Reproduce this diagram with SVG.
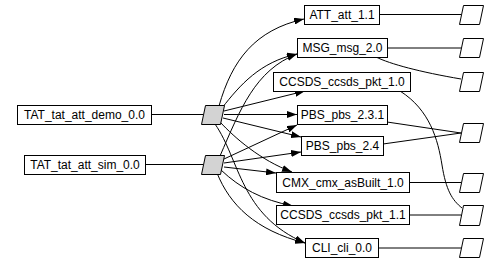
<svg xmlns="http://www.w3.org/2000/svg" width="500" height="264" viewBox="0 0 500 264">
<defs>
<style>
.box{fill:#fff;stroke:#000;stroke-width:1}
.src{fill:#d3d3d3;stroke:#000;stroke-width:1}
.sink{fill:#fff;stroke:#000;stroke-width:1}
.lbl{font-family:"Liberation Sans",Arial,sans-serif;font-size:12px;fill:#000;text-anchor:middle;dominant-baseline:central}
.e{fill:none;stroke:#000;stroke-width:1}
.a{marker-end:url(#arr)}
</style>
<marker id="arr" markerUnits="userSpaceOnUse" markerWidth="10" markerHeight="7" refX="10" refY="3.5" orient="auto">
<path d="M0,0 L10,3.5 L0,7 z" fill="#000"/>
</marker>
</defs>
<rect width="500" height="264" fill="#fff"/>
<g id="connectors">
<path class="e" d="M151,114.5 L203,114.5"/>
<path class="e" d="M145,164.5 L203,164.5"/>
<path class="e a" d="M219,106 C232,60 255,30 304,19"/>
<path class="e a" d="M222,108 C240,85 260,62 297,54"/>
<path class="e a" d="M220,156 C240,110 255,70 297,54"/>
<path class="e a" d="M224,111 L305,91"/>
<path class="e a" d="M224,114.5 L297,114.5"/>
<path class="e a" d="M224,159 L297,125"/>
<path class="e a" d="M223,118 L301,137"/>
<path class="e a" d="M224,163 L301,152"/>
<path class="e a" d="M220,122 C235,138 260,160 292,172"/>
<path class="e a" d="M224,167 L276,173"/>
<path class="e a" d="M221,170 C240,188 262,200 293,206"/>
<path class="e a" d="M217,173 C230,205 255,230 305,243"/>
<path class="e a" d="M215,124 C240,160 240,215 305,243"/>
<path class="e" d="M379,14.5 L461,14.5"/>
<path class="e" d="M387,48 L461,48"/>
<path class="e" d="M376,57 C390,64 420,72 461,79"/>
<path class="e" d="M400,91 C430,110 438,140 442,165 C446,190 452,200 462,208"/>
<path class="e" d="M387,122 L461,133"/>
<path class="e" d="M383,144 L461,133"/>
<path class="e" d="M409,182.5 L461,182.5"/>
<path class="e" d="M409,215 L461,215"/>
<path class="e" d="M378,248 L461,248"/>
</g>
<g id="TAT_tat_att_demo_0.0"><rect class="box" x="17.5" y="105.5" width="134" height="19"/><text class="lbl" x="84.5" y="115">TAT_tat_att_demo_0.0</text></g>
<g id="TAT_tat_att_sim_0.0"><rect class="box" x="24.5" y="155.5" width="121" height="19"/><text class="lbl" x="85" y="165">TAT_tat_att_sim_0.0</text></g>
<g id="src_demo"><polygon class="src" points="205.5,105.5 224.5,105.5 220.5,124.5 201.5,124.5"/></g>
<g id="src_sim"><polygon class="src" points="205.5,155.5 224.5,155.5 220.5,174.5 201.5,174.5"/></g>
<g id="ATT_att_1.1"><rect class="box" x="304.5" y="5.5" width="75" height="19"/><text class="lbl" x="342" y="15">ATT_att_1.1</text></g>
<g id="MSG_msg_2.0"><rect class="box" x="297.5" y="38.5" width="90" height="19"/><text class="lbl" x="342.5" y="48">MSG_msg_2.0</text></g>
<g id="CCSDS_ccsds_pkt_1.0"><rect class="box" x="273.5" y="72.5" width="137" height="19"/><text class="lbl" x="342" y="82">CCSDS_ccsds_pkt_1.0</text></g>
<g id="PBS_pbs_2.3.1"><rect class="box" x="297.5" y="105.5" width="90" height="19"/><text class="lbl" x="342.5" y="115">PBS_pbs_2.3.1</text></g>
<g id="PBS_pbs_2.4"><rect class="box" x="301.5" y="136.5" width="82" height="19"/><text class="lbl" x="342.5" y="146">PBS_pbs_2.4</text></g>
<g id="CMX_cmx_asBuilt_1.0"><rect class="box" x="276.5" y="172.5" width="133" height="20"/><text class="lbl" x="343" y="182.5">CMX_cmx_asBuilt_1.0</text></g>
<g id="CCSDS_ccsds_pkt_1.1"><rect class="box" x="276.5" y="205.5" width="133" height="19"/><text class="lbl" x="343" y="215">CCSDS_ccsds_pkt_1.1</text></g>
<g id="CLI_cli_0.0"><rect class="box" x="305.5" y="238.5" width="73" height="19"/><text class="lbl" x="342" y="248">CLI_cli_0.0</text></g>
<g id="sink1"><polygon class="sink" points="463.5,5.5 483.5,5.5 479.5,24.5 459.5,24.5"/></g>
<g id="sink2"><polygon class="sink" points="463.5,38.5 483.5,38.5 479.5,57.5 459.5,57.5"/></g>
<g id="sink3"><polygon class="sink" points="463.5,72.5 483.5,72.5 479.5,91.5 459.5,91.5"/></g>
<g id="sink4"><polygon class="sink" points="463.5,123.5 483.5,123.5 479.5,142.5 459.5,142.5"/></g>
<g id="sink5"><polygon class="sink" points="463.5,173.5 483.5,173.5 479.5,192.5 459.5,192.5"/></g>
<g id="sink6"><polygon class="sink" points="463.5,205.5 483.5,205.5 479.5,225.5 459.5,225.5"/></g>
<g id="sink7"><polygon class="sink" points="463.5,238.5 483.5,238.5 479.5,257.5 459.5,257.5"/></g>
</svg>
